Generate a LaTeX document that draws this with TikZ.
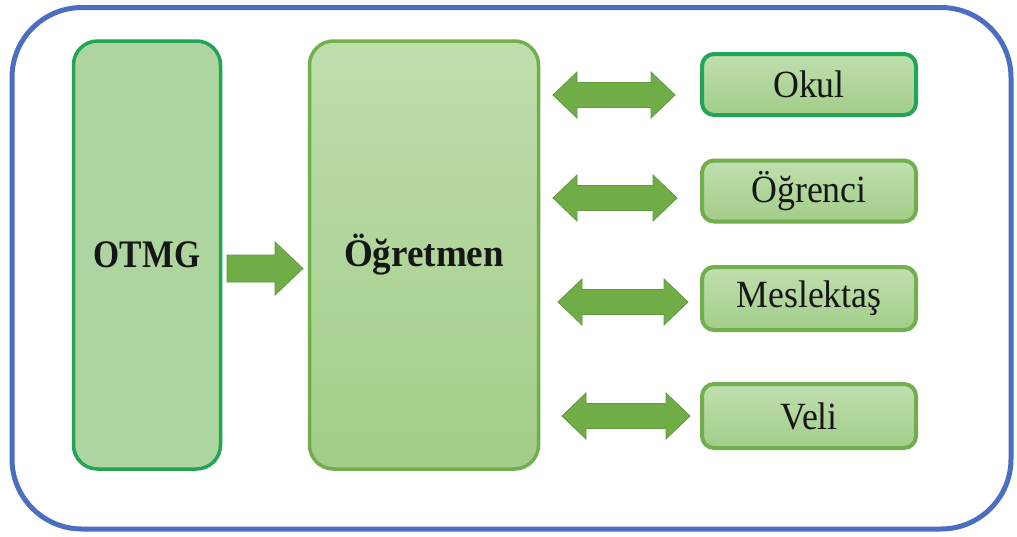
\documentclass[tikz,border=0pt]{standalone}
\usepackage{fontspec}
\setmainfont{Liberation Serif}[FakeStretch=0.93]
\newfontfamily\headfont{Liberation Serif}[FakeStretch=0.95]
\newfontfamily\narrowhead{Liberation Serif}[FakeStretch=0.86]
\begin{document}
\begin{tikzpicture}[x=1pt,y=-1pt,
  frame/.style={draw=frameblue,line width=5pt,rounded corners=70pt},
  bigbox/.style={rectangle,rounded corners=24pt,minimum width=147pt,minimum height=428pt,
    line width=3.5pt,text=txt},
  smallbox/.style={rectangle,rounded corners=12pt,minimum width=214pt,minimum height=61pt,
    line width=4pt,draw=olive,top color=boxtop,bottom color=boxbot,
    font=\fontsize{38.5}{40}\selectfont,text=txt},
  blockarrow/.style={fill=arrowfill,draw=arrowline,line width=0.8pt,line join=miter}
]
\definecolor{frameblue}{HTML}{4A6EC0}
\definecolor{olive}{HTML}{72AD4E}
\definecolor{brightgreen}{HTML}{22A556}
\definecolor{boxtop}{HTML}{C0DFAE}
\definecolor{boxbot}{HTML}{A2CD89}
\definecolor{fillA}{HTML}{AED49F}
\definecolor{arrowfill}{HTML}{70AD47}
\definecolor{arrowline}{HTML}{5F9A3C}
\definecolor{txt}{HTML}{161616}

\useasboundingbox (0,0) rectangle (1017,536);
\fill[white] (0,0) rectangle (1017,536);

% outer frame
\draw[frame] (12,7.5) rectangle (1011,529);

% left columns
\node[bigbox,draw=brightgreen,fill=fillA,
  font=\narrowhead\fontsize{39}{40}\selectfont\bfseries] (otmg) at (147,255) {OTMG};
\node[bigbox,draw=olive,top color=boxtop!90!fillA,bottom color=boxbot,minimum width=229pt,
  font=\headfont\fontsize{39}{40}\selectfont\bfseries] (ogretmen) at (424,255) {Öğretmen};

% partners
\node[smallbox,draw=brightgreen] (okul) at (809,84.5) {Okul};
\node[smallbox] (ogrenci) at (809,191) {Öğrenci};
\node[smallbox,minimum height=63pt] (meslektas) at (809,298.5) {Meslektaş};
\node[smallbox,minimum height=64pt] (veli) at (809,416) {Veli};

% OTMG -> Öğretmen block arrow
\draw[blockarrow] (227,255) -- (275,255) -- (275,242) -- (303,268.5) -- (275,295)
  -- (275,282) -- (227,282) -- cycle;

% two-way block arrows: left tip x, right tip x, centre y
\newcommand\twoway[3]{%
  \draw[blockarrow] (#1,#3) -- ({#1+24},{#3-23}) -- ({#1+24},{#3-12.5})
    -- ({#2-24},{#3-12.5}) -- ({#2-24},{#3-23}) -- (#2,#3)
    -- ({#2-24},{#3+23}) -- ({#2-24},{#3+12.5}) -- ({#1+24},{#3+12.5})
    -- ({#1+24},{#3+23}) -- cycle;}
\twoway{553}{675}{95}
\twoway{553}{677}{198}
\twoway{558}{688}{302}
\twoway{562}{690}{416}
\end{tikzpicture}
\end{document}
